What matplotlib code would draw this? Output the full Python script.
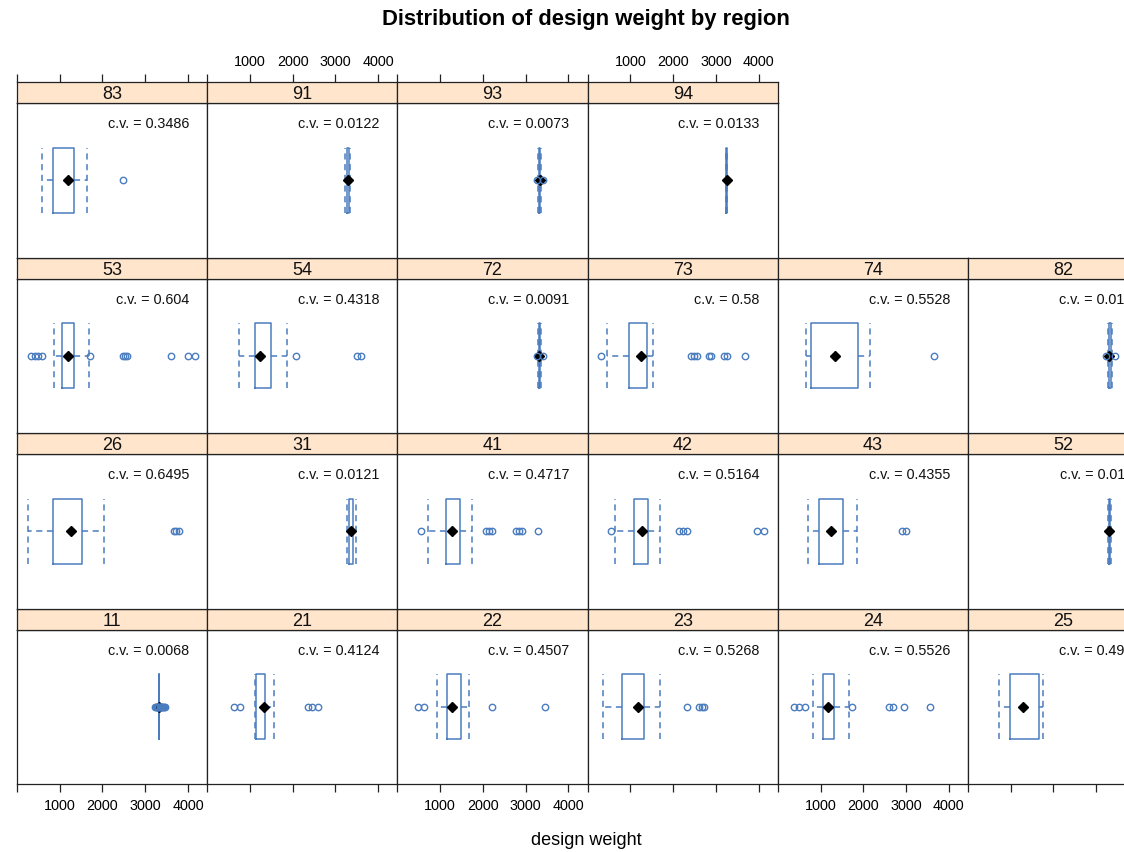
import numpy as np
import matplotlib.pyplot as plt

plt.rcParams['font.family'] = ['Liberation Sans', 'DejaVu Sans']

# panels in lattice order: bottom-left first, 6 per row
regions = ['11', '21', '22', '23', '24', '25',
           '26', '31', '41', '42', '43', '52',
           '53', '54', '72', '73', '74', '82',
           '83', '91', '93', '94']
whisker_lo = [3318, 1123, 931, 365, 817, 735,
              257, 3260, 707, 650, 711, 3270,
              865, 733, 3290, 447, 671, 3270,
              580, 3235, 3285, 3240]
q1 = [3320, 1146, 1163, 795, 1053, 980,
      839, 3315, 1128, 1081, 955, 3290,
      1053, 1123, 3305, 966, 777, 3290,
      835, 3262, 3310, 3245]
median = [3322, 1329, 1271, 1177, 1174, 1280,
          1270, 3354, 1271, 1275, 1256, 3310,
          1200, 1247, 3322, 1242, 1338, 3300,
          1200, 3290, 3325, 3250]
q3 = [3324, 1347, 1495, 1331, 1305, 1661,
      1511, 3400, 1460, 1413, 1525, 3330,
      1333, 1482, 3340, 1389, 1874, 3340,
      1333, 3322, 3345, 3255]
whisker_hi = [3326, 1563, 1665, 1698, 1663, 1759,
              2040, 3480, 1738, 1689, 1864, 3350,
              1677, 1871, 3355, 1535, 2162, 3370,
              1630, 3345, 3370, 3260]
outliers = [
    [3240, 3255, 3270, 3285, 3295, 3305, 3340, 3350, 3365, 3380, 3400, 3420, 3440, 3460],
    [622, 756, 2351, 2449, 2585],
    [482, 618, 2213, 3448],
    [2330, 2599, 2665, 2721],
    [370, 500, 630, 1726, 2604, 2702, 2949, 3556],
    [],
    [3663, 3725, 3787],
    [],
    [554, 2078, 2150, 2222, 2768, 2840, 2912, 3287],
    [545, 2145, 2225, 2314, 3972, 4133],
    [2905, 3010],
    [],
    [339, 421, 503, 585, 1700, 2491, 2538, 2585, 3595, 4007, 4164],
    [2089, 3509, 3602],
    [3270, 3395],
    [316, 2428, 2494, 2559, 2835, 2898, 3184, 3266, 3687],
    [3645],
    [3240, 3430],
    [2473],
    [],
    [3255, 3400],
    [],
]
cv_text = ['0.0068', '0.4124', '0.4507', '0.5268', '0.5526', '0.4931',
           '0.6495', '0.0121', '0.4717', '0.5164', '0.4355', '0.0115',
           '0.604', '0.4318', '0.0091', '0.58', '0.5528', '0.0107',
           '0.3486', '0.0122', '0.0073', '0.0133']
tick_vals = [0, 1000, 2000, 3000, 4000]
tick_labels = ['', '1000', '2000', '3000', '4000']

W, H = 1124, 853
blue = '#4a7cc0'
edge = '#222222'
ncol, nrow = 6, 4
x0, cw = 17, 190.2
y0, rh, sh = 83, 175.5, 21


def px_box(left, top, w, h):
    return [left / W, 1 - (top + h) / H, w / W, h / H]


fig = plt.figure(figsize=(W / 100, H / 100), dpi=100)

for i, reg in enumerate(regions):
    col = i % ncol
    row_b = i // ncol
    row_t = nrow - 1 - row_b
    left = x0 + col * cw
    top = y0 + row_t * rh

    ax = fig.add_axes(px_box(left, top + sh, cw, rh - sh))
    sax = fig.add_axes(px_box(left, top, cw, sh))

    stats = [{'med': median[i], 'q1': q1[i], 'q3': q3[i],
              'whislo': whisker_lo[i], 'whishi': whisker_hi[i],
              'fliers': np.array(outliers[i], dtype=float)}]
    ax.bxp(stats, positions=[0.5], widths=0.42, capwidths=0.42,
           orientation='horizontal', manage_ticks=False,
           boxprops=dict(color=blue, lw=1.1),
           whiskerprops=dict(color=blue, lw=1.1, linestyle=(0, (4, 3))),
           capprops=dict(color=blue, lw=1.1, linestyle=(0, (4, 3))),
           medianprops=dict(lw=0),
           flierprops=dict(marker='o', markerfacecolor='none', markeredgecolor=blue,
                           markersize=4.6, markeredgewidth=1.0, zorder=4))
    ax.plot([median[i]], [0.5], marker='D', color='black', markersize=5.5,
            linestyle='none', zorder=3)
    ax.text(1 - 18 / cw, 0.87, 'c.v. = ' + cv_text[i], transform=ax.transAxes,
            ha='right', va='center', fontsize=10.4, color='#111111')

    for a in (ax, sax):
        a.set_xlim(0, 4450)
        a.set_yticks([])
        for s in a.spines.values():
            s.set_color(edge)
            s.set_linewidth(0.9)
    ax.set_ylim(0, 1)

    sax.set_facecolor('#ffe5cc')
    sax.set_ylim(0, 1)
    sax.text(0.5, 0.45, reg, transform=sax.transAxes, ha='center', va='center',
             fontsize=13, color='#111111')

    # bottom axis on the bottom row, labels alternate
    if row_b == 0:
        ax.set_xticks(tick_vals)
        ax.tick_params(axis='x', direction='out', length=6, width=0.9, color=edge,
                       pad=4, labelsize=10.4)
        if col % 2 == 0:
            ax.set_xticklabels(tick_labels)
        else:
            ax.set_xticklabels([''] * len(tick_vals))
    else:
        ax.set_xticks([])

    # top axis only above the top row
    sax.xaxis.set_ticks_position('top')
    if row_t == 0:
        sax.set_xticks(tick_vals)
        sax.tick_params(axis='x', direction='out', length=6, width=0.9, color=edge,
                        pad=4, labelsize=10.4, top=True, bottom=False,
                        labeltop=True, labelbottom=False)
        if col % 2 == 1:
            sax.set_xticklabels(tick_labels)
        else:
            sax.set_xticklabels([''] * len(tick_vals))
    else:
        sax.set_xticks([])

fig.text(586 / W, 1 - 19 / H, 'Distribution of design weight by region',
         ha='center', va='center', fontsize=15.8, fontweight='bold')
fig.text(586 / W, 1 - 841 / H, 'design weight', ha='center', va='center', fontsize=13)

fig.savefig('out.png', dpi=100)
